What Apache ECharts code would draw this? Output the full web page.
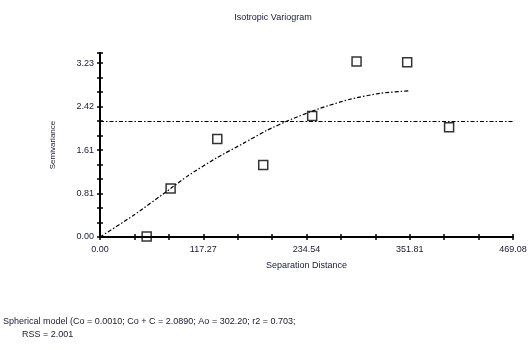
<!DOCTYPE html>
<html>
<head>
<meta charset="utf-8">
<script src="https://cdn.jsdelivr.net/npm/echarts@6/dist/echarts.min.js"></script>
<style>html,body{margin:0;padding:0;background:#fff}#c{width:532px;height:350px}</style>
</head>
<body>
<div id="c"></div>
<script>
// Data
var pointX = [53.0, 80.2, 133.2, 185.4, 241.0, 291.4, 348.9, 396.5];
var pointY = [0.01, 0.90, 1.82, 1.34, 2.25, 3.26, 3.25, 2.04];
var modelX = [0, 37.8, 80.2, 100.0, 132.4, 162.7, 189.2, 217.6, 249.7, 283.8, 317.8, 351.9];
var modelY = [0.001, 0.40, 0.90, 1.14, 1.47, 1.74, 1.98, 2.19, 2.39, 2.56, 2.67, 2.72];
var sampleVariance = 2.16;
var xTickLabels = ['0.00', '117.27', '234.54', '351.81', '469.08'];
var yTickLabels = ['0.00', '0.81', '1.61', '2.42', '3.23'];
var xStep = 117.27, xMax = 469.08;
var yStep = 0.8075, yTop = 3.42;

var pts = pointX.map(function (x, i) { return [x, pointY[i]]; });
var model = modelX.map(function (x, i) { return [x, modelY[i]]; });

var chart = echarts.init(document.getElementById('c'));
var font = 'Liberation Sans, Arial, sans-serif';
var txt = '#1a1a33';
function yFmt(v) {
  var i = Math.round(v / yStep);
  if (Math.abs(v - i * yStep) > 1e-6) return '';
  return yTickLabels[i] || '';
}
function xFmt(v) {
  var i = Math.round(v / xStep);
  return xTickLabels[i] || '';
}
var baseX = {
  type: 'value', min: 0, max: xMax, interval: xStep,
  splitLine: { show: false },
  axisLine: { lineStyle: { color: '#000', width: 2 } },
  minorTick: { show: true, splitNumber: 3, length: 3, lineStyle: { color: '#000', width: 1.5 } },
  axisTick: { length: 3, lineStyle: { color: '#000', width: 1.5 } }
};
var baseY = {
  type: 'value', min: 0, max: yTop, interval: yStep,
  splitLine: { show: false },
  axisLine: { lineStyle: { color: '#000', width: 2 } },
  minorTick: { show: true, splitNumber: 3, length: 3, lineStyle: { color: '#000', width: 1.5 } },
  axisTick: { length: 3, lineStyle: { color: '#000', width: 1.5 } }
};
chart.setOption({
  animation: false,
  backgroundColor: '#fff',
  title: {
    text: 'Isotropic Variogram', left: 268, top: 8, textAlign: 'center',
    textStyle: { fontFamily: font, fontSize: 9, fontWeight: 'normal', color: txt }
  },
  grid: { left: 100, right: 19, top: 53, bottom: 113 },
  xAxis: [
    Object.assign({}, baseX, {
      name: 'Separation Distance', nameLocation: 'middle', nameGap: 24,
      nameTextStyle: { fontFamily: font, fontSize: 9, color: txt },
      axisLabel: { formatter: xFmt, fontFamily: font, fontSize: 9, color: txt, margin: 8 }
    }),
    Object.assign({}, baseX, {
      position: 'bottom', axisLabel: { show: false },
      axisTick: { inside: true, length: 3, lineStyle: { color: '#000', width: 1.5 } }
    })
  ],
  yAxis: [
    Object.assign({}, baseY, {
      name: 'Semivariance', nameLocation: 'middle', nameGap: 43,
      nameTextStyle: { fontFamily: font, fontSize: 8, color: txt },
      axisLabel: { formatter: yFmt, fontFamily: font, fontSize: 9, color: txt, margin: 6 }
    }),
    Object.assign({}, baseY, {
      position: 'left', axisLabel: { show: false },
      axisTick: { inside: true, length: 3, lineStyle: { color: '#000', width: 1.5 } }
    })
  ],
  series: [
    {
      type: 'line', data: model, showSymbol: false, smooth: 0.2, silent: true,
      lineStyle: { color: '#000', width: 1.2, type: [4, 2, 1.5, 2] },
      markLine: {
        silent: true, symbol: 'none', label: { show: false },
        lineStyle: { color: '#000', width: 1.2, type: [4, 2, 1.5, 2] },
        data: [{ yAxis: sampleVariance }]
      }
    },
    {
      type: 'scatter', data: pts, symbol: 'rect', symbolSize: 9, clip: false,
      itemStyle: { color: 'rgba(0,0,0,0)', borderColor: '#000', borderWidth: 1.5 }
    }
  ],
  graphic: [
    { type: 'text', left: 3, top: 317, style: { text: 'Spherical model (Co = 0.0010; Co + C = 2.0890; Ao = 302.20; r2 = 0.703;', fontFamily: font, fontSize: 9, fill: txt } },
    { type: 'text', left: 22, top: 330, style: { text: 'RSS = 2.001', fontFamily: font, fontSize: 9, fill: txt } }
  ]
});
</script>
</body>
</html>
